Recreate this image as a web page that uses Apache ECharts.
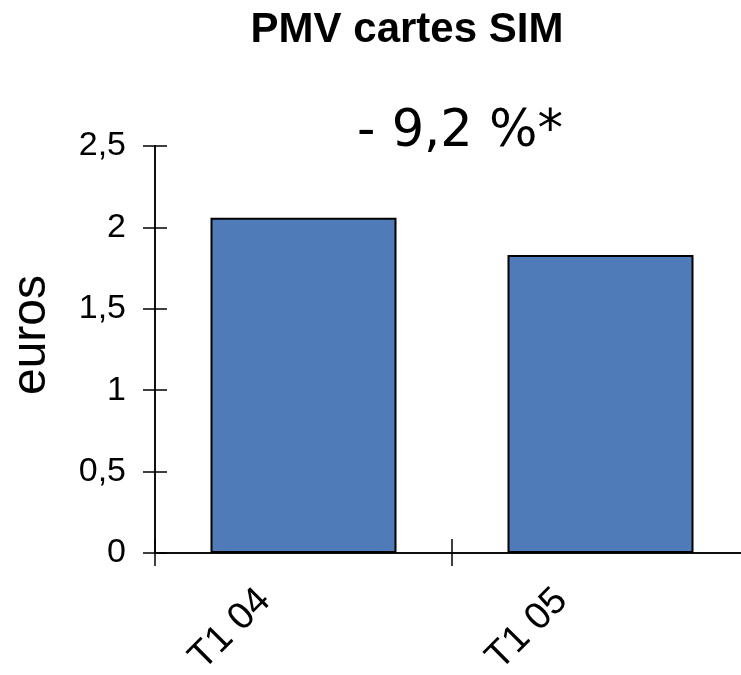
<!DOCTYPE html>
<html>
<head>
<meta charset="utf-8">
<script src="https://cdn.jsdelivr.net/npm/echarts@6/dist/echarts.min.js"></script>
<style>
  html, body { margin: 0; padding: 0; background: #fff; }
  #chart { width: 741px; height: 675px; }
</style>
</head>
<body>
<div id="chart"></div>
<script>
const categories = ['T1 04', 'T1 05'];
const values = [2.06, 1.83];
const yTicks = [0, 0.5, 1, 1.5, 2, 2.5];
const titleText = 'PMV cartes SIM';
const noteText = '- 9,2 %*';
const unitText = 'euros';

const chart = echarts.init(document.getElementById('chart'));
const font = '"Liberation Sans", Arial, sans-serif';
const lineStyle = { color: '#000', width: 1.5 };

const option = {
  animation: false,
  title: {
    text: titleText,
    left: 402,
    top: 4,
    textAlign: 'center',
    textStyle: { fontFamily: font, fontSize: 42, fontWeight: 'bold', color: '#000' }
  },
  grid: { left: 155, width: 594, top: 146, bottom: 122, outerBoundsMode: 'none', containLabel: false },
  xAxis: [
    {
      type: 'category',
      data: categories,
      axisLine: { show: true, lineStyle: lineStyle },
      axisTick: { show: true, inside: false, length: 13, lineStyle: lineStyle },
      axisLabel: {
        rotate: 45,
        margin: 3,
        padding: [0, 55, 0, 0],
        fontFamily: font,
        fontSize: 38,
        color: '#000'
      }
    },
    {
      type: 'category',
      data: categories,
      position: 'bottom',
      axisLine: { show: true, lineStyle: lineStyle },
      axisTick: { show: true, inside: true, length: 14, lineStyle: lineStyle },
      axisLabel: { show: false }
    }
  ],
  yAxis: [
    {
      type: 'value',
      min: yTicks[0],
      max: yTicks[yTicks.length - 1],
      interval: 0.5,
      splitLine: { show: false },
      axisLine: { show: true, lineStyle: lineStyle },
      axisTick: { show: true, length: 12, lineStyle: lineStyle },
      axisLabel: {
        margin: 29,
        fontFamily: font,
        fontSize: 34,
        color: '#000',
        formatter: v => String(v).replace('.', ',')
      }
    },
    {
      type: 'value',
      position: 'left',
      min: yTicks[0],
      max: yTicks[yTicks.length - 1],
      interval: 0.5,
      splitLine: { show: false },
      axisLine: { show: true, lineStyle: lineStyle },
      axisTick: { show: true, inside: true, length: 12, lineStyle: lineStyle },
      axisLabel: { show: false }
    }
  ],
  graphic: [
    {
      type: 'text',
      x: 460,
      y: 133,
      style: {
        text: noteText,
        fontFamily: '"DejaVu Sans", sans-serif',
        fontSize: 51,
        fill: '#000',
        align: 'center',
        verticalAlign: 'middle'
      }
    },
    {
      type: 'text',
      x: 32,
      y: 335,
      rotation: Math.PI / 2,
      style: {
        text: unitText,
        fontFamily: font,
        fontSize: 48,
        fill: '#000',
        align: 'center',
        verticalAlign: 'middle'
      }
    }
  ],
  series: [
    {
      type: 'bar',
      data: values,
      barWidth: 186,
      itemStyle: { color: '#4F7BB9', borderColor: '#000', borderWidth: 2 }
    }
  ]
};
chart.setOption(option);
</script>
</body>
</html>
